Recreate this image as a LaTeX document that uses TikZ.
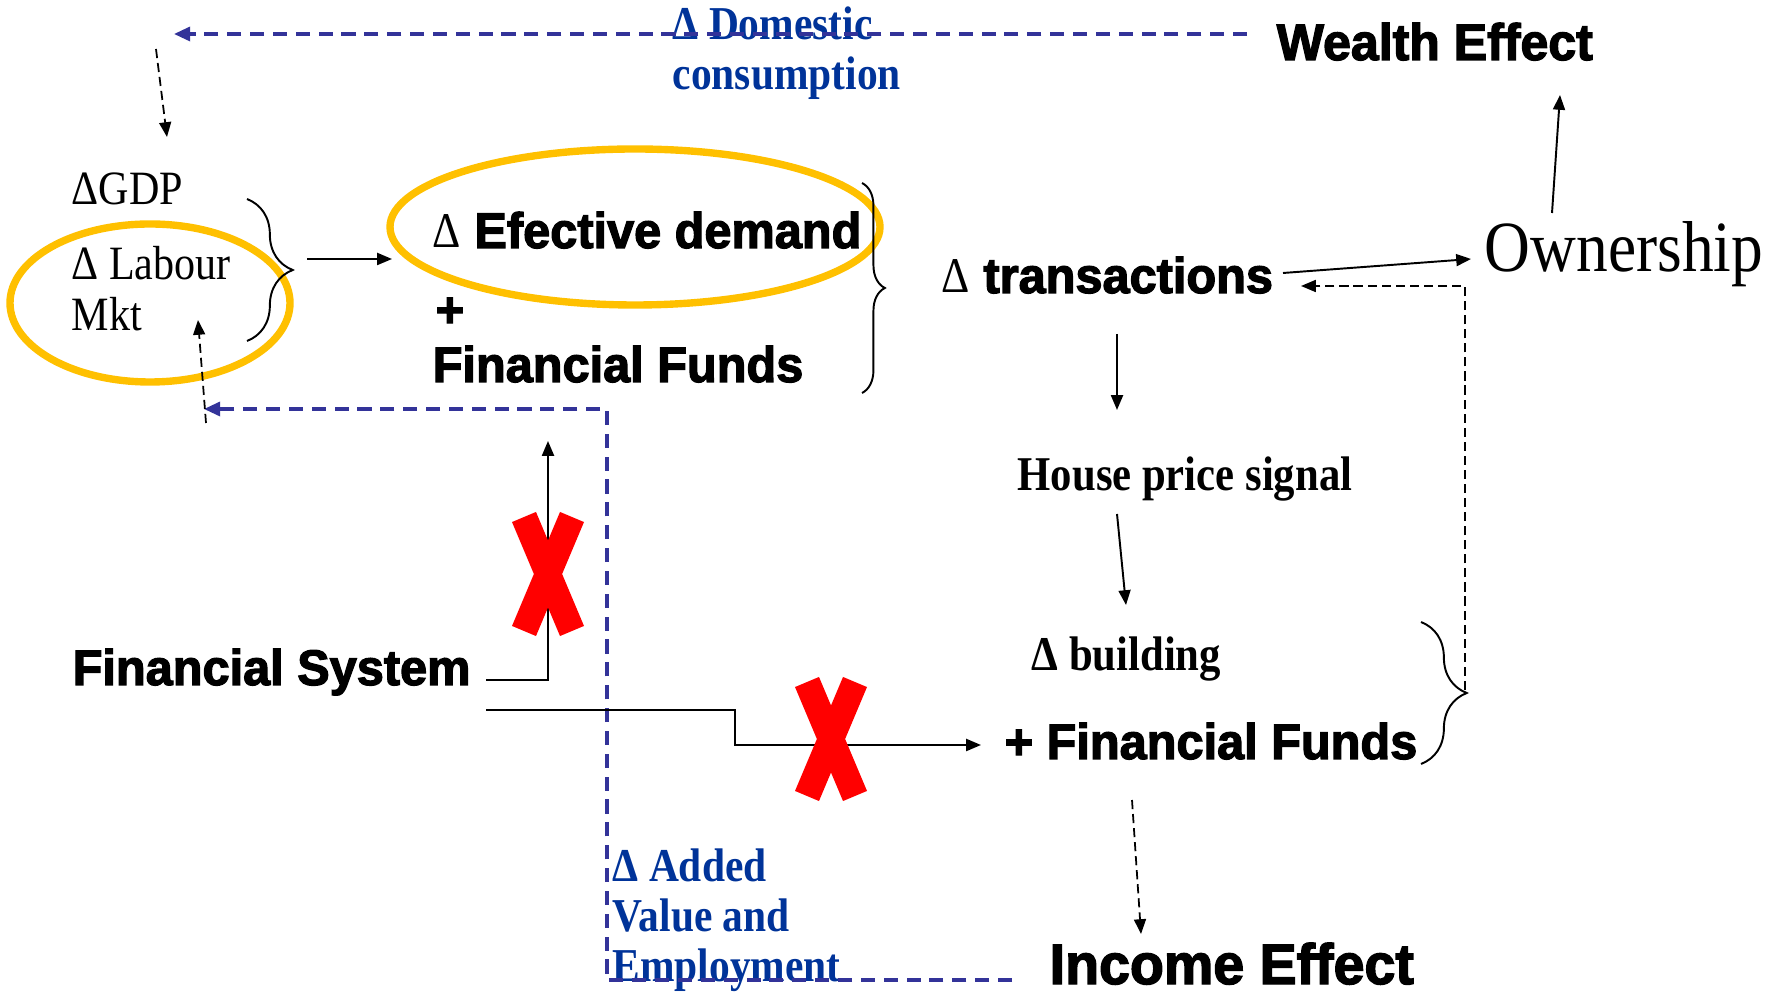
\documentclass[tikz,border=0pt]{standalone}
\usepackage{fontspec}
\setmainfont{Liberation Serif}[FakeStretch=0.88]
\newfontfamily\heavysans{Liberation Sans}[BoldFeatures={FakeBold=2.5,FakeStretch=0.975}]
\usetikzlibrary{arrows.meta,decorations.pathreplacing}

\definecolor{flowblue}{RGB}{51,51,153}
\definecolor{labelblue}{RGB}{0,51,153}
\definecolor{ringgold}{RGB}{255,192,0}
\definecolor{crossred}{RGB}{255,0,0}

\tikzset{
  txt/.style={inner sep=0pt, anchor=base west},
  heavy/.style={txt, font=\heavysans\bfseries\fontsize{14.2}{16}\selectfont},
  plain/.style={txt, font=\fontsize{13.6}{16}\selectfont},
  plainbold/.style={txt, font=\bfseries\fontsize{13.8}{16}\selectfont},
  bluelabel/.style={txt, text=labelblue, font=\bfseries\fontsize{13.4}{16}\selectfont},
  solidarrow/.style={line width=0.55pt, -{Triangle[length=4.2pt,width=3.4pt]}},
  dasharrow/.style={line width=0.5pt, dash pattern=on 2.6pt off 1.4pt, -{Triangle[length=4.2pt,width=3.4pt]}},
  bluearrow/.style={line width=0.95pt, flowblue, dash pattern=on 4pt off 2.5pt, -{Triangle[length=4.6pt,width=4pt]}},
  ring/.style={line width=2.1pt, ringgold},
  crossbar/.style={line width=7.4pt, crossred},
  curly/.style={line width=0.55pt, decorate, decoration={brace, amplitude=#1}},
}
\newcommand{\rmdelta}{{\normalfont\rmfamily Δ}}

\begin{document}
\begin{tikzpicture}[x=0.01cm, y=-0.01cm]
  \useasboundingbox (0,0) rectangle (1773,992);

  % highlight rings
  \draw[ring] (150,303) ellipse [x radius=140, y radius=79];
  \draw[ring] (635,227) ellipse [x radius=245, y radius=78];

  % text blocks
  \node[bluelabel] (dom1) at (672,40) {Δ Domestic};
  \node[bluelabel] (dom2) at (672,90) {consumption};
  \node[heavy, font=\heavysans\bfseries\fontsize{14.6}{16}\selectfont] (wealth) at (1276,60) {Wealth Effect};
  \node[plain] (gdp) at (71,205) {ΔGDP};
  \node[plain] (lab1) at (71,280) {Δ Labour};
  \node[plain] (lab2) at (71,331) {Mkt};
  \node[heavy] (eff) at (432,248) {\rmdelta\ Efective demand};
  \node[heavy] (plus1) at (435,327) {+};
  \node[heavy] (ff1) at (432,382) {Financial Funds};
  \node[heavy] (trans) at (941,293) {\rmdelta\ transactions};
  \node[txt, font=\fontsize{20.5}{24}\selectfont] (own) at (1484,272) {Ownership};
  \node[plainbold] (house) at (1017,491) {House price signal};
  \node[plainbold] (build) at (1031,671) {Δ building};
  \node[heavy] (ff2) at (1004,759) {+ Financial Funds};
  \node[heavy, font=\heavysans\bfseries\fontsize{16.2}{18}\selectfont] (income) at (1049,984) {Income Effect};
  \node[heavy] (finsys) at (72,685) {Financial System};
  \node[bluelabel] (add1) at (612,881) {Δ Added};
  \node[bluelabel] (add2) at (612,932) {Value and};
  \node[bluelabel] (add3) at (612,981) {Employment};

  % connector end points
  \coordinate (wealthW) at (1247,34);
  \coordinate (gdpTopIn) at (174,34);
  \coordinate (gdpDashA) at (156,49);
  \coordinate (gdpDashB) at (167,137);
  \coordinate (braceL) at (307,259);
  \coordinate (effW) at (392,259);
  \coordinate (labUpA) at (206,423);
  \coordinate (labUpB) at (198,320);
  \coordinate (incomeW) at (1012,980);
  \coordinate (vaCornerB) at (607,980);
  \coordinate (vaCornerT) at (607,409);
  \coordinate (labIn) at (204,409);
  \coordinate (fsA) at (486,680);
  \coordinate (fsA1) at (548,680);
  \coordinate (fsAtip) at (548,441);
  \coordinate (fsB) at (486,710);
  \coordinate (fsB1) at (735,710);
  \coordinate (fsB2) at (735,745);
  \coordinate (ff2W) at (981,745);
  \coordinate (transE) at (1283,273);
  \coordinate (ownW) at (1471,259);
  \coordinate (ownN) at (1552,213);
  \coordinate (wealthS) at (1560,95);
  \coordinate (buildTip) at (1465,690);
  \coordinate (fbCorner) at (1465,286);
  \coordinate (transIn) at (1301,286);
  \coordinate (transS) at (1117,334);
  \coordinate (houseN) at (1117,410);
  \coordinate (houseS) at (1117,514);
  \coordinate (buildN) at (1126,605);
  \coordinate (ff2S) at (1132,800);
  \coordinate (incomeN) at (1141,934);

  % braces
  \draw[curly=13pt] (247,199) -- (247,341);
  \draw[curly=6.5pt] (862,183) -- (862,393);
  \draw[curly=13pt] (1421,622) -- (1421,764);

  % blue feedback loops
  \draw[bluearrow] (wealthW) -- (gdpTopIn);
  \draw[bluearrow] (incomeW) -- (vaCornerB) -- (vaCornerT) -- (labIn);

  % black connectors
  \draw[dasharrow] (gdpDashA) -- (gdpDashB);
  \draw[solidarrow] (braceL) -- (effW);
  \draw[dasharrow] (labUpA) -- (labUpB);
  \draw[solidarrow] (fsA) -- (fsA1) -- (fsAtip);
  \draw[solidarrow] (fsB) -- (fsB1) -- (fsB2) -- (ff2W);
  \draw[solidarrow] (transE) -- (ownW);
  \draw[solidarrow] (ownN) -- (wealthS);
  \draw[dasharrow] (buildTip) -- (fbCorner) -- (transIn);
  \draw[solidarrow] (transS) -- (houseN);
  \draw[solidarrow] (houseS) -- (buildN);
  \draw[dasharrow] (ff2S) -- (incomeN);

  % blocked channels
  \draw[crossbar] (524,517) -- (572,631) (572,517) -- (524,631);
  \draw[crossbar] (807,682) -- (855,796) (855,682) -- (807,796);
\end{tikzpicture}
\end{document}
